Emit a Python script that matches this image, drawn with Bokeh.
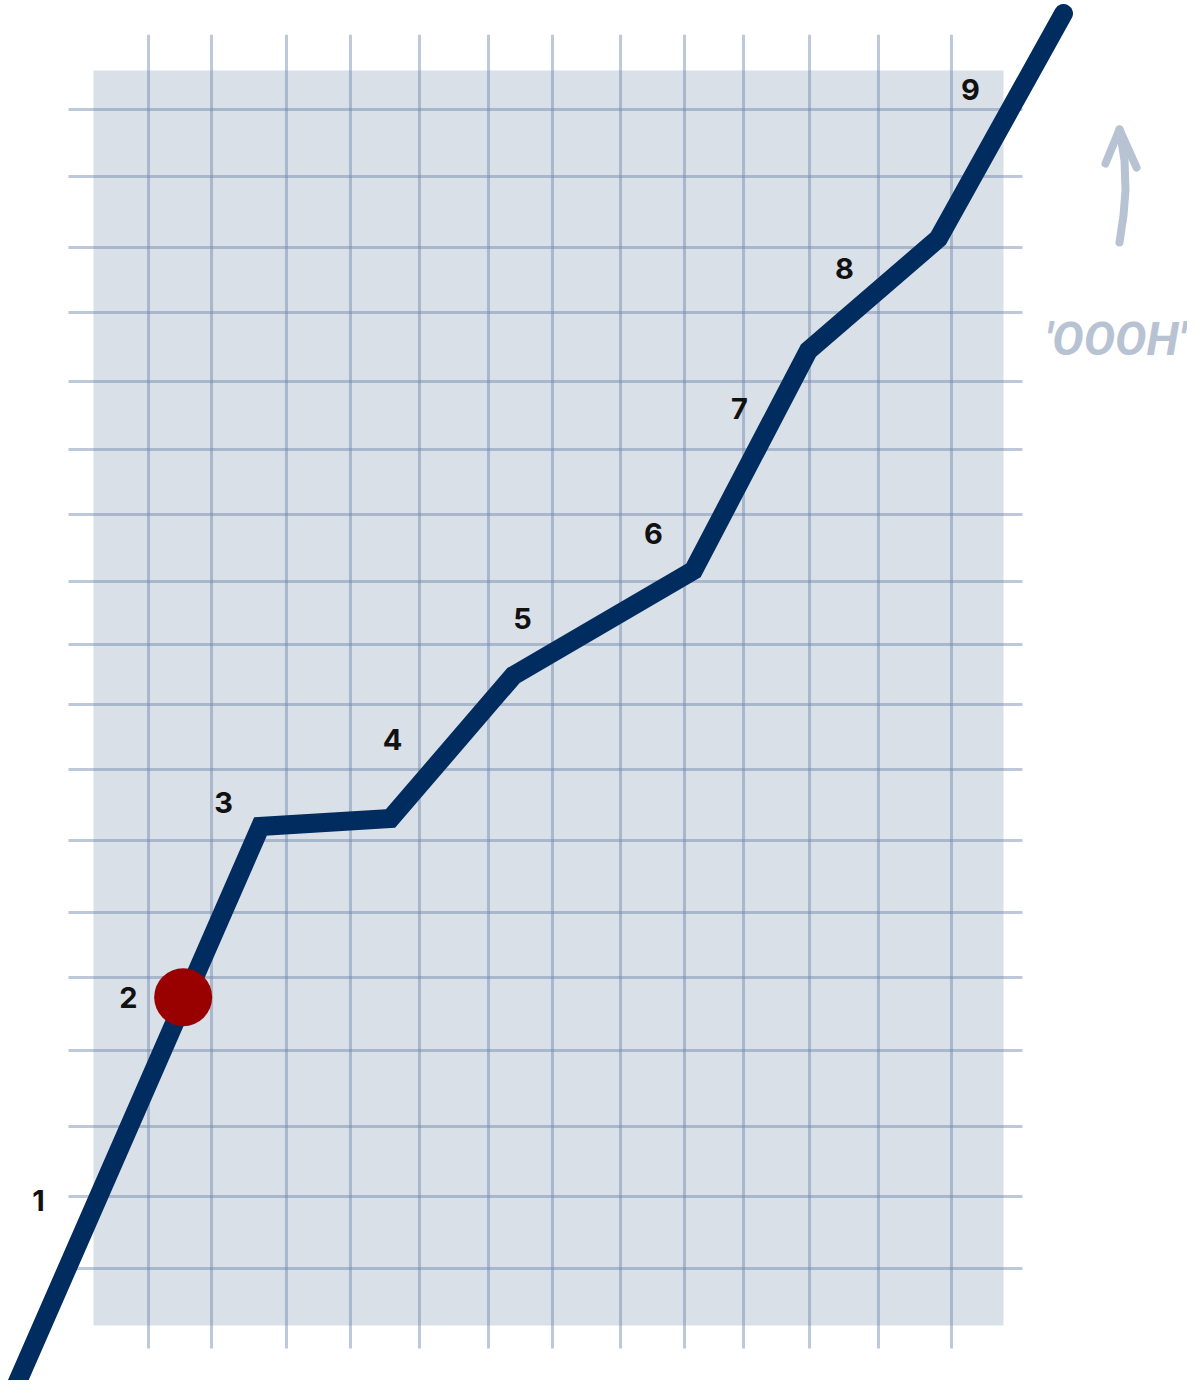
from bokeh.plotting import figure
from bokeh.models import Range1d, ColumnDataSource
from bokeh.core.properties import value
from bokeh.embed import file_html
from bokeh.resources import INLINE

# ---- data (chart units: 1 unit = one nominal grid cell) ----
# panel extent
PANEL_X = [0.0, 13.0]
PANEL_Y = [0.0, 17.93]

# hand-drawn grid positions
GRID_X = [0.786, 1.686, 2.757, 3.671, 4.657, 5.643, 6.557, 7.529, 8.443,
          9.286, 10.229, 11.214, 12.257]
GRID_Y = [17.371, 16.414, 15.4, 14.471, 13.486, 12.514, 11.586, 10.629, 9.729,
          8.871, 7.943, 6.929, 5.9, 4.971, 3.929, 2.843, 1.843, 0.814]
GRID_X_SPAN = [-0.33, 18.44]
GRID_Y_SPAN = [-0.357, 13.271]

# the path
PATH_X = [-1.114, 2.386, 4.243, 6.0, 8.571, 10.214, 12.071, 13.857]
PATH_Y = [-0.871, 7.129, 7.243, 9.286, 10.786, 13.929, 15.529, 18.743]

# highlighted point
DOT_X = [1.281]
DOT_Y = [4.69]

# step labels
LABELS = ["1", "2", "3", "4", "5", "6", "7", "8", "9"]
LABEL_X = [-0.786, 0.5, 1.857, 4.271, 6.129, 8.0, 9.229, 10.729, 12.529]
LABEL_Y = [1.786, 4.686, 7.471, 8.371, 10.1, 11.314, 13.1, 15.1, 17.657]

# hand-drawn annotation
ARROW_SHAFT_X = [14.657, 14.714, 14.743, 14.729, 14.657]
ARROW_SHAFT_Y = [15.471, 15.857, 16.214, 16.643, 17.086]
ARROW_HEAD_X = [14.457, 14.657, 14.9]
ARROW_HEAD_Y = [16.6, 17.086, 16.543]
NOTE_TEXT = ["'OOOH'"]
NOTE_X = [14.6]
NOTE_Y = [14.1]

# ---- figure ----
p = figure(width=1187, height=1380, output_backend="svg", toolbar_location=None,
           x_range=Range1d(-93 / 70, 1094 / 70), y_range=Range1d(-55 / 70, 1325 / 70),
           x_axis_type=None, y_axis_type=None, min_border=0)
p.outline_line_color = None
p.grid.visible = False
p.background_fill_color = "white"
p.border_fill_color = "white"

# panel
p.quad(left=[PANEL_X[0]], right=[PANEL_X[1]], bottom=[PANEL_Y[0]], top=[PANEL_Y[1]],
       fill_color="#dae0e8", line_color=None)

# grid
grid_col = "#6d85ad"
p.segment(x0=GRID_X, x1=GRID_X, y0=[GRID_X_SPAN[0]] * len(GRID_X),
          y1=[GRID_X_SPAN[1]] * len(GRID_X),
          line_color=grid_col, line_alpha=0.45, line_width=3)
p.segment(x0=[GRID_Y_SPAN[0]] * len(GRID_Y), x1=[GRID_Y_SPAN[1]] * len(GRID_Y),
          y0=GRID_Y, y1=GRID_Y,
          line_color=grid_col, line_alpha=0.45, line_width=3)

# path
p.line(PATH_X, PATH_Y, line_color="#002c5f", line_width=19,
       line_join="miter", line_cap="round")

# dot
p.scatter(DOT_X, DOT_Y, size=58, fill_color="#990000", line_color=None)

# labels
src = ColumnDataSource(dict(x=LABEL_X, y=LABEL_Y, t=LABELS))
p.text(x="x", y="y", text="t", source=src, text_font=value("Inter"),
       text_font_style="bold", text_font_size="29px", text_color="#111111",
       text_align="center", text_baseline="middle")

# annotation
ann_col = "#b7c2d3"
p.line(ARROW_SHAFT_X, ARROW_SHAFT_Y, line_color=ann_col, line_width=8,
       line_cap="round", line_join="round")
p.line(ARROW_HEAD_X, ARROW_HEAD_Y, line_color=ann_col, line_width=8,
       line_cap="round", line_join="round")
p.text(x=NOTE_X, y=NOTE_Y, text=NOTE_TEXT, text_font=value("Roboto"),
       text_font_style="bold italic", text_font_size="47px", text_color=ann_col,
       text_align="center", text_baseline="alphabetic")

open("out.html", "w").write(file_html(p, INLINE))
